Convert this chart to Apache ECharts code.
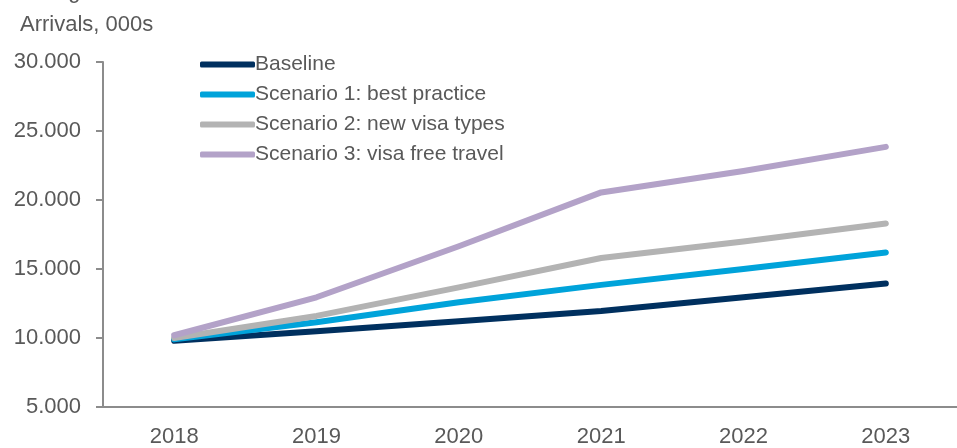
<!DOCTYPE html>
<html>
<head>
<meta charset="utf-8">
<script src="https://cdn.jsdelivr.net/npm/echarts@6/dist/echarts.min.js"></script>
<style>
  html, body { margin: 0; padding: 0; background: #fff; }
  #chart { width: 957px; height: 448px; }
</style>
</head>
<body>
<div id="chart"></div>
<script>
  // data, arrivals in thousands
  const years = ['2018', '2019', '2020', '2021', '2022', '2023']
  const baseline = [9800, 10490, 11210, 11950, 12950, 13950]
  const scenario1 = [9900, 11140, 12590, 13850, 15000, 16200]
  const scenario2 = [10000, 11600, 13670, 15800, 17000, 18300]
  const scenario3 = [10200, 12950, 16650, 20550, 22100, 23850]
  const seriesNames = ['Baseline', 'Scenario 1: best practice', 'Scenario 2: new visa types', 'Scenario 3: visa free travel']
  const colors = ['#00305f', '#00a3da', '#b3b3b3', '#b3a2c8']

  const chart = echarts.init(document.getElementById('chart'))
  const font = 'Liberation Sans, Arial, sans-serif'

  function line(name, data, color) {
    return {
      name: name,
      type: 'line',
      data: data,
      symbol: 'none',
      lineStyle: { width: 6, color: color, cap: 'round', join: 'round' },
      itemStyle: { color: color },
      z: 2
    }
  }

  chart.setOption({
    animation: false,
    textStyle: { fontFamily: font },
    title: [{
      // chart title is cut off by the top edge of the picture
      text: 'Figure 5: Visitor arrivals under the scenarios',
      left: 45,
      top: -24,
      textStyle: { fontSize: 22, fontWeight: 'normal', color: '#595959', fontFamily: font }
    }, {
      text: 'Arrivals, 000s',
      left: 15,
      top: 9,
      textStyle: { fontSize: 22, fontWeight: 'normal', color: '#595959', fontFamily: font }
    }],
    legend: {
      orient: 'vertical',
      left: 195,
      top: 49,
      itemWidth: 55,
      itemHeight: 6,
      itemGap: 9,
      icon: 'roundRect',
      data: seriesNames,
      textStyle: { fontSize: 21, color: '#595959', fontFamily: font, padding: [0, 0, 0, -5] }
    },
    grid: { left: 103, top: 62, bottom: 40, right: -15, containLabel: false },
    xAxis: {
      type: 'category',
      data: years,
      boundaryGap: true,
      axisLine: { lineStyle: { color: '#8c8c8c', width: 2 } },
      axisTick: { show: false },
      axisLabel: { fontSize: 22, color: '#595959', margin: 19, fontFamily: font }
    },
    yAxis: {
      type: 'value',
      min: 5000,
      max: 30000,
      interval: 5000,
      axisLine: { show: true, lineStyle: { color: '#8c8c8c', width: 2 } },
      axisTick: { show: true, length: 7, lineStyle: { color: '#8c8c8c', width: 2 } },
      splitLine: { show: false },
      axisLabel: {
        fontSize: 22,
        color: '#595959',
        margin: 22,
        fontFamily: font,
        formatter: function (v) {
          return (v / 1000).toFixed(3)
        }
      }
    },
    series: [
      line(seriesNames[0], baseline, colors[0]),
      line(seriesNames[1], scenario1, colors[1]),
      line(seriesNames[2], scenario2, colors[2]),
      line(seriesNames[3], scenario3, colors[3])
    ]
  })
</script>
</body>
</html>
